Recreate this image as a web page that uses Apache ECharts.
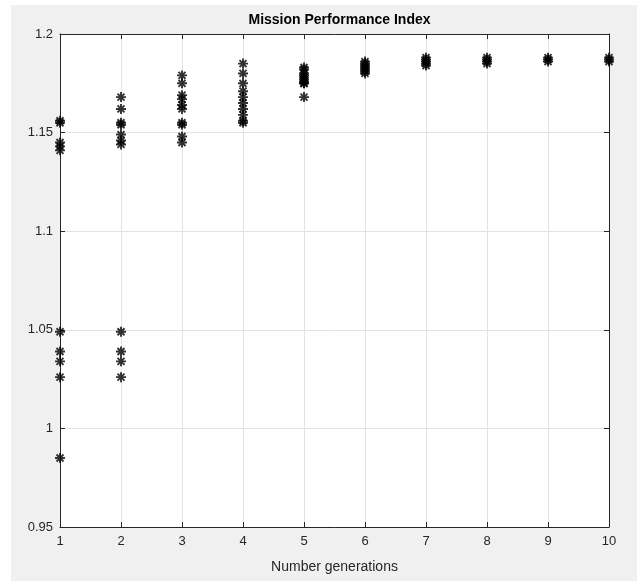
<!DOCTYPE html>
<html>
<head>
<meta charset="utf-8">
<script src="https://cdn.jsdelivr.net/npm/echarts@6/dist/echarts.min.js"></script>
<style>
html,body{margin:0;padding:0;background:#ffffff;}
#chart{width:637px;height:581px;}
</style>
</head>
<body>
<div id="chart"></div>
<script>
const titleText = 'Mission Performance Index';
const xAxisName = 'Number generations';
const generations = [1, 2, 3, 4, 5, 6, 7, 8, 9, 10];
const gen1 = [1.156, 1.155, 1.145, 1.143, 1.141, 1.049, 1.039, 1.034, 1.026, 0.985];
const gen2 = [1.168, 1.162, 1.155, 1.154, 1.149, 1.146, 1.144, 1.049, 1.039, 1.034, 1.026];
const gen3 = [1.179, 1.175, 1.169, 1.167, 1.164, 1.162, 1.155, 1.154, 1.148, 1.145];
const gen4 = [1.185, 1.180, 1.175, 1.171, 1.168, 1.165, 1.162, 1.159, 1.156, 1.155];
const gen5 = [1.183, 1.182, 1.180, 1.179, 1.178, 1.177, 1.176, 1.175, 1.175, 1.168];
const gen6 = [1.186, 1.185, 1.184, 1.183, 1.182, 1.181, 1.180];
const gen7 = [1.188, 1.187, 1.186, 1.185, 1.184];
const gen8 = [1.188, 1.187, 1.186, 1.185];
const gen9 = [1.188, 1.187, 1.186];
const gen10 = [1.188, 1.187, 1.186];
const allGens = [gen1, gen2, gen3, gen4, gen5, gen6, gen7, gen8, gen9, gen10];
const yTicks = [0.95, 1, 1.05, 1.1, 1.15, 1.2];

const points = [];
allGens.forEach((vals, i) => vals.forEach(v => points.push([generations[i], v])));

const star = 'path://M0,-10L0,10M-10,0L10,0M-7,-7L7,7M-7,7L7,-7';
const axisColor = '#262626';
const font = '"Liberation Sans", Arial, Helvetica, sans-serif';

const chart = echarts.init(document.getElementById('chart'), null, {renderer: 'canvas'});
const baseX = {
  type: 'value', min: 1, max: 10, interval: 1,
  axisLine: {show: true, onZero: false, lineStyle: {color: axisColor, width: 1}},
  axisTick: {show: true, inside: true, length: 5, lineStyle: {color: axisColor}},
  splitLine: {show: false}
};
const baseY = {
  type: 'value', min: 0.95, max: 1.2, interval: 0.05,
  axisLine: {show: true, onZero: false, lineStyle: {color: axisColor, width: 1}},
  axisTick: {show: true, inside: true, length: 5, lineStyle: {color: axisColor}},
  splitLine: {show: false}
};
chart.setOption({
  backgroundColor: '#ffffff',
  animation: false,
  graphic: [{
    type: 'rect', left: 11, top: 5, z: -10, silent: true,
    shape: {width: 626, height: 576},
    style: {fill: '#f0f0f0'}
  }, {
    type: 'rect', left: 60, top: 34, z: -9, silent: true,
    shape: {width: 549, height: 493},
    style: {fill: '#ffffff'}
  }],
  title: {
    text: titleText, left: 334.5, top: 8, textAlign: 'center',
    textStyle: {fontFamily: font, fontSize: 14, fontWeight: 'bold', color: '#000000'}
  },
  grid: {left: 60, right: 28, top: 34, bottom: 54, containLabel: false},
  xAxis: [
    Object.assign({}, baseX, {
      position: 'bottom',
      name: xAxisName, nameLocation: 'middle', nameGap: 33,
      nameTextStyle: {fontFamily: font, fontSize: 14, color: axisColor},
      axisLabel: {show: true, margin: 8, fontFamily: font, fontSize: 13, color: axisColor},
      splitLine: {show: true, lineStyle: {color: '#e3e3e3', width: 1}}
    }),
    Object.assign({}, baseX, {position: 'top', axisLabel: {show: false}})
  ],
  yAxis: [
    Object.assign({}, baseY, {
      position: 'left',
      axisLabel: {show: true, margin: 7, fontFamily: font, fontSize: 13, color: axisColor,
        formatter: v => String(+v.toFixed(2))},
      splitLine: {show: true, lineStyle: {color: '#e3e3e3', width: 1}}
    }),
    Object.assign({}, baseY, {position: 'right', axisLabel: {show: false}})
  ],
  series: [{
    type: 'scatter',
    xAxisIndex: 0, yAxisIndex: 0,
    data: points,
    symbol: star,
    symbolSize: 10,
    clip: false,
    itemStyle: {color: 'rgba(0,0,0,0)', borderColor: '#000000', borderWidth: 1.9},
    emphasis: {disabled: true}
  }]
});
</script>
</body>
</html>
